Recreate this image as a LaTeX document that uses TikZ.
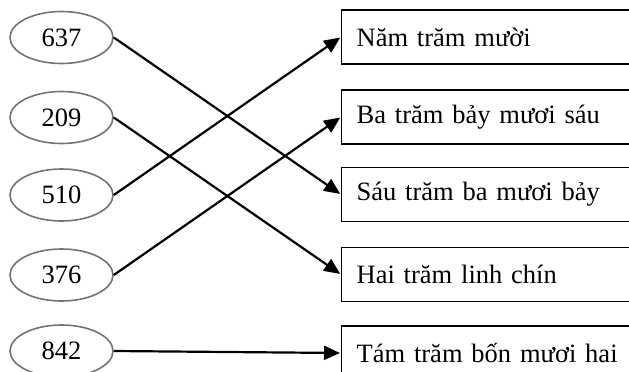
\documentclass[tikz,border=0pt]{standalone}
\usepackage{fontspec}
\setmainfont{Liberation Serif}
\usetikzlibrary{shapes.geometric,arrows.meta}
\begin{document}
\begin{tikzpicture}[x=1pt,y=-1pt,
  num/.style={ellipse,draw=black!55,line width=1.6pt,minimum width=103pt,minimum height=52pt,inner sep=0pt,font=\fontsize{26.5}{26.5}\selectfont},
  word/.style={rectangle,draw=black,line width=1.3pt,minimum width=300pt,minimum height=54pt,text width=270pt,inner sep=0pt,align=left,font=\fontsize{26.5}{26.5}\selectfont,anchor=west},
  link/.style={line width=2.2pt,-{Triangle[length=16pt,width=14pt]},shorten >=1pt}]
\useasboundingbox (0,0) rectangle (629,372);
\node[num] (a) at (61.5,37.5) {637};
\node[num] (b) at (61.5,117.5) {209};
\node[num] (c) at (61.5,195) {510};
\node[num] (d) at (61.5,275) {376};
\node[num] (e) at (61.5,351) {842};
\node[word] (p) at (341,37) {Năm trăm mười};
\node[word] (q) at (341,117) {Ba trăm bảy mươi sáu};
\node[word] (r) at (341,194.5) {Sáu trăm ba mươi bảy};
\node[word] (s) at (341,274.5) {Hai trăm linh chín};
\node[word] (t) at (341,353) {Tám trăm bốn mươi hai};
\draw[link] (a.east) -- (r.west);
\draw[link] (b.east) -- (s.west);
\draw[link] (c.east) -- (p.west);
\draw[link] (d.east) -- (q.west);
\draw[link] (e.east) -- (t.west);
\end{tikzpicture}
\end{document}
